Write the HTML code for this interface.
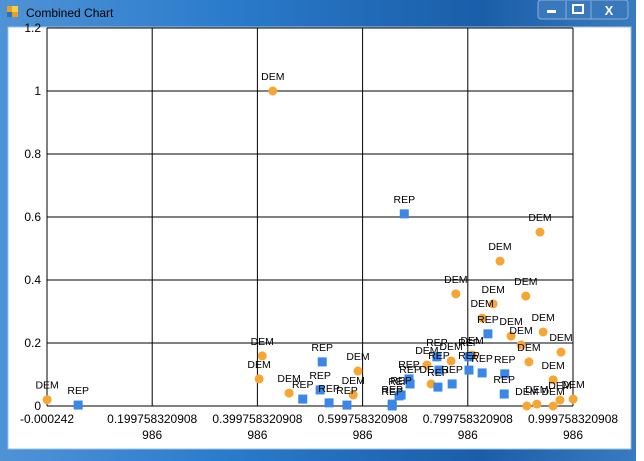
<!DOCTYPE html>
<html><head><meta charset="utf-8"><style>
html,body{margin:0;padding:0;width:644px;height:461px;overflow:hidden;background:#fff;font-family:"Liberation Sans",sans-serif}
</style></head><body>
<svg id="svg" width="644" height="461" xmlns="http://www.w3.org/2000/svg">
<defs>
<linearGradient id="tb" x1="0" x2="1" y1="0" y2="0">
<stop offset="0" stop-color="#4f93d6"/><stop offset="0.35" stop-color="#2b7bcc"/><stop offset="0.75" stop-color="#1a5ea8"/><stop offset="1" stop-color="#3a7cc0"/>
</linearGradient>
</defs>
<rect x="0" y="0" width="640" height="461" fill="url(#tb)"/>
<rect x="636" y="0" width="8" height="461" fill="#fff"/>
<rect x="8" y="27" width="623" height="422" fill="#fff" stroke="#9cc0e6" stroke-width="1"/>
<rect x="7" y="6" width="11" height="11" fill="#e8a020"/>
<rect x="12" y="6" width="6" height="6" fill="#f5d040"/>
<rect x="7" y="12" width="5" height="5" fill="#3070c0"/>
<text x="26" y="17" font-size="12" fill="#000">Combined Chart</text>
<g>
<rect x="538" y="0" width="90" height="19" rx="3" fill="#3a78bc" stroke="#8ab0d8"/>
<line x1="566" y1="1" x2="566" y2="19" stroke="#8ab0d8"/><line x1="591" y1="1" x2="591" y2="19" stroke="#8ab0d8"/>
<rect x="547" y="10" width="9" height="3" fill="#fff"/>
<rect x="573" y="5" width="10" height="8" fill="none" stroke="#fff" stroke-width="2"/>
<text x="609" y="15" font-size="13" font-weight="bold" fill="#fff" text-anchor="middle">X</text>
</g>
<g id="grid"></g>
<g id="ticks"></g>
<g id="marks"></g>
</svg>
<script>
const xTicks=[-0.000242,0.199758320908986,0.399758320908986,0.599758320908986,0.799758320908986,0.999758320908986];
const xTickLine1=["-0.000242","0.199758320908","0.399758320908","0.599758320908","0.799758320908","0.999758320908"];
const xTickLine2=["","986","986","986","986","986"];
const yTicks=[0,0.2,0.4,0.6,0.8,1,1.2];
const yTickLabels=["0","0.2","0.4","0.6","0.8","1","1.2"];
const demX=[0,0.429,0.409,0.403,0.460,0.591,0.582,0.722,0.768,0.730,0.808,0.777,0.848,0.827,0.861,0.937,0.910,0.882,0.901,0.943,0.977,0.916,0.962,0.912,0.931,0.962,0.975,1.0];
const demY=[0.02,1.0,0.159,0.086,0.041,0.111,0.035,0.130,0.143,0.070,0.162,0.356,0.324,0.279,0.460,0.552,0.349,0.222,0.194,0.235,0.171,0.140,0.083,0.0,0.006,0.0,0.019,0.022];
const repX=[0.059,0.679,0.523,0.486,0.519,0.536,0.570,0.656,0.669,0.688,0.690,0.673,0.741,0.745,0.743,0.770,0.802,0.802,0.827,0.838,0.870,0.869,0.656];
const repY=[0.003,0.610,0.140,0.022,0.051,0.010,0.003,0.006,0.032,0.086,0.070,0.035,0.156,0.114,0.060,0.070,0.156,0.114,0.105,0.229,0.102,0.038,0.0];
const X0=47,X1=573,Y0=406,Y1=28;
const xMin=-0.000242,xMax=0.999758,yMin=0,yMax=1.2;
const sx=v=>X0+(v-xMin)/(xMax-xMin)*(X1-X0);
const sy=v=>Y0-(v-yMin)/(yMax-yMin)*(Y0-Y1);
const NS="http://www.w3.org/2000/svg";
function mk(tag,attrs,parent){const e=document.createElementNS(NS,tag);for(const k in attrs)e.setAttribute(k,attrs[k]);parent.appendChild(e);return e;}
const grid=document.getElementById('grid'),ticks=document.getElementById('ticks'),marks=document.getElementById('marks');
xTicks.forEach((t,i)=>{
 const l=mk('line',{x1:sx(t),x2:sx(t),y1:Y1,y2:Y0,stroke:'#000','stroke-width':1},grid);
 
 
 const tx=mk('text',{x:sx(t),y:Y0+17,'font-size':12,'text-anchor':'middle',fill:'#000'},ticks);
 tx.textContent=xTickLine1[i];
 
 
 if(xTickLine2[i]){const t2=mk('text',{x:sx(t),y:Y0+33,'font-size':12,'text-anchor':'middle',fill:'#000'},ticks);t2.textContent=xTickLine2[i];
 
 }
});
yTicks.forEach((t,i)=>{
 const l=mk('line',{x1:X0,x2:X1,y1:sy(t),y2:sy(t),stroke:'#000','stroke-width':1},grid);
 
 
 const tx=mk('text',{x:X0-6,y:sy(t)+4,'font-size':12,'text-anchor':'end',fill:'#000'},ticks);
 tx.textContent=yTickLabels[i];
 
 
});
demX.forEach((v,i)=>{
 const c=mk('circle',{cx:sx(v),cy:sy(demY[i]),r:4.5,fill:'#f7a533'},marks);
 
 
 const t=mk('text',{x:sx(v),y:sy(demY[i])-11,'font-size':10.5,'text-anchor':'middle',fill:'#000'},marks);
 t.textContent='DEM';
 
 
});
repX.forEach((v,i)=>{
 const r=mk('rect',{x:sx(v)-4.5,y:sy(repY[i])-4.5,width:9,height:9,fill:'#3b87e6'},marks);
 
 
 const t=mk('text',{x:sx(v),y:sy(repY[i])-11,'font-size':10.5,'text-anchor':'middle',fill:'#000'},marks);
 t.textContent='REP';
 
 
});
</script>
</body></html>
